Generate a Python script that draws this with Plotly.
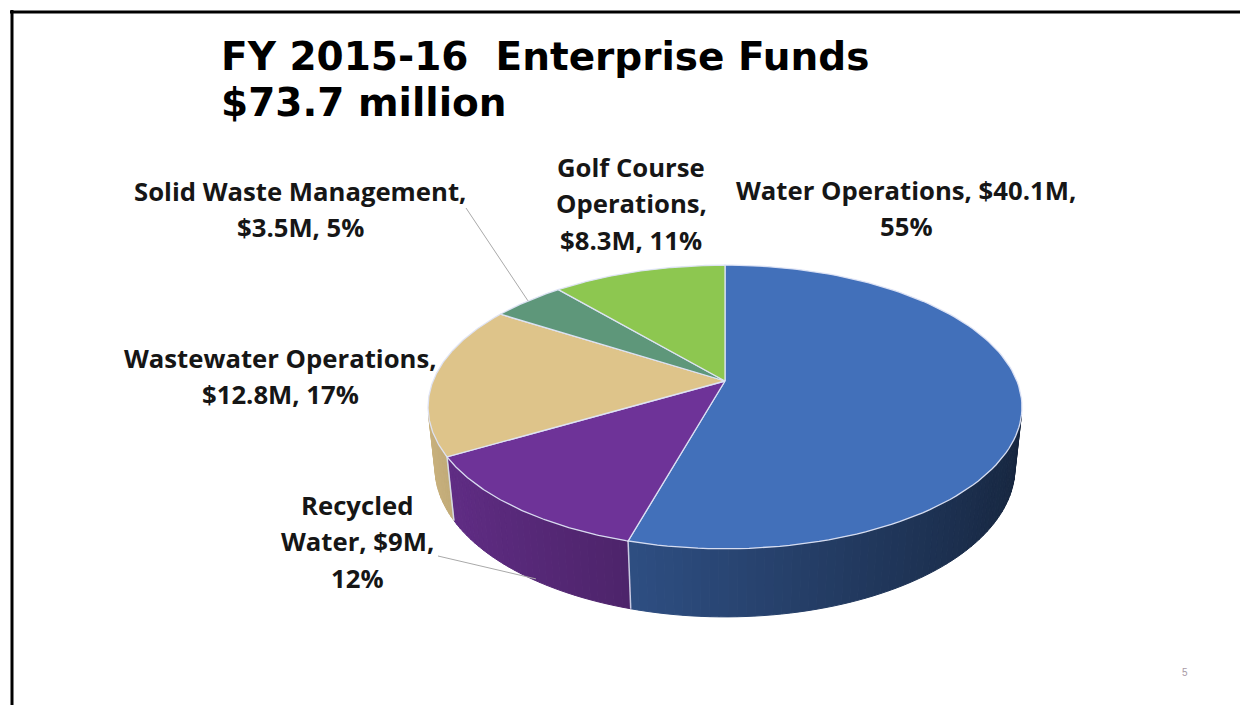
import textwrap
import numpy as np
import plotly.graph_objects as go

# ---- data -------------------------------------------------------------
categories = ["Water Operations", "Recycled Water", "Wastewater Operations",
              "Solid Waste Management", "Golf Course Operations"]
values_musd = [40.1, 9.0, 12.8, 3.5, 8.3]          # $ millions
value_text = ["$40.1M", "$9M", "$12.8M", "$3.5M", "$8.3M"]
percent_text = ["55%", "12%", "17%", "5%", "11%"]
title_lines = ["FY 2015-16  Enterprise Funds", "$73.7 million"]
page_number = "5"

# ---- styling ------------------------------------------------------------
top_colors = ["#4270BA", "#6E3398", "#DEC48A", "#5E977A", "#8DC750"]
wrap_widths = [25, 11, 22, 23, 11]
# label centres, same order as categories
label_centers = [(906, 190), (357, 505), (280, 358), (300, 191), (631, 167)]
line_gap = 36.5
label_font = dict(family="Open Sans", size=25.7, color="#161616", weight="bold")
# leader lines: (start point near the label, slice angle offset, depth fraction)
leaders = {1: ((438, 556), 0.42, 0.97), 3: ((466, 208), 0.5, 0.0)}

W, H = 1240, 705
CX, CY = 725.0, 381.0          # projected pie centre
TILT = np.radians(28.0)
S, C = np.sin(TILT), np.cos(TILT)
D = 4.823                      # camera distance (pie radius = 1)
F = 1408.0                     # focal scale in px
DEPTH = 0.237                  # pie thickness


def project(phi_deg, z):
    phi = np.radians(np.asarray(phi_deg, dtype=float))
    X, Y = np.sin(phi), np.cos(phi)
    yc = Y * S + z * C
    zc = D + Y * C - z * S
    return CX + F * X / zc, CY - F * yc / zc


def shade(hex_color, fac):
    h = hex_color.lstrip("#")
    r, g, b = (int(h[i:i + 2], 16) for i in (0, 2, 4))
    return "rgb(%d,%d,%d)" % tuple(min(255, int(round(v * fac))) for v in (r, g, b))


total = sum(values_musd)
bounds = np.concatenate([[0.0], np.cumsum(values_musd) / total * 360.0])

fig = go.Figure()

# visible part of the outer wall (front-facing arc of the cylinder)
phi_t = np.degrees(np.arccos(-1.0 / (D * C)))
vis_lo, vis_hi = phi_t, 360.0 - phi_t

for i, col in enumerate(top_colors):
    a0, a1 = max(bounds[i], vis_lo), min(bounds[i + 1], vis_hi)
    if a1 <= a0:
        continue
    n = max(1, int(np.ceil((a1 - a0) / 1.5)))
    edges = np.linspace(a0, a1, n + 1)
    for e0, e1 in zip(edges[:-1], edges[1:]):
        arc = np.linspace(e0, e1, 4)
        xt, yt = project(arc, 0.0)
        xb, yb = project(arc[::-1], -DEPTH)
        mid = np.radians(0.5 * (e0 + e1))
        c = shade(col, 0.62 - 0.29 * np.sin(mid))
        fig.add_trace(go.Scatter(
            x=np.concatenate([xt, xb, xt[:1]]), y=np.concatenate([yt, yb, yt[:1]]),
            mode="lines", fill="toself", fillcolor=c,
            line=dict(color=c, width=1), hoverinfo="skip", showlegend=False))

# seams on the wall between slices
for b in bounds[1:-1]:
    if vis_lo < b < vis_hi:
        xs, ys = project([b, b], np.array([0.0, -DEPTH]))
        fig.add_trace(go.Scatter(x=xs, y=ys, mode="lines",
                                 line=dict(color="rgba(215,222,240,0.9)", width=1.5),
                                 hoverinfo="skip", showlegend=False))

# top faces
for i, col in enumerate(top_colors):
    arc = np.linspace(bounds[i], bounds[i + 1], 120)
    xa, ya = project(arc, 0.0)
    fig.add_trace(go.Scatter(
        x=np.concatenate([[CX], xa, [CX]]), y=np.concatenate([[CY], ya, [CY]]),
        mode="lines", fill="toself", fillcolor=col,
        line=dict(color="rgba(222,228,246,0.95)", width=1.3),
        name=categories[i], hoverinfo="skip", showlegend=False))

# leader lines
for i, (start, frac, zf) in leaders.items():
    ang = bounds[i] + frac * (bounds[i + 1] - bounds[i])
    ex, ey = project([ang], -zf * DEPTH)
    fig.add_trace(go.Scatter(x=[start[0], ex[0]], y=[start[1], ey[0]], mode="lines",
                             line=dict(color="#a9a9a9", width=1),
                             hoverinfo="skip", showlegend=False))

annotations = []
for i in range(len(categories)):
    text = f"{categories[i]}, {value_text[i]}, {percent_text[i]}"
    lines = textwrap.wrap(text, wrap_widths[i])
    cx, cy = label_centers[i]
    for k, ln in enumerate(lines):
        annotations.append(dict(x=cx, y=cy + k * line_gap, text=ln, showarrow=False,
                                xanchor="center", yanchor="middle", font=label_font))

title_font = dict(family="DejaVu Sans", size=39, color="#000000", weight="bold")
for k, t in enumerate(title_lines):
    annotations.append(dict(x=219, y=56 + k * 46, text=t, showarrow=False,
                            xanchor="left", yanchor="middle", font=title_font))

annotations.append(dict(x=1185, y=672, text=page_number, showarrow=False,
                        font=dict(family="Liberation Sans", size=10, color="#a89aa6")))

shapes = [
    dict(type="line", x0=10, x1=W, y0=12, y1=12, line=dict(color="black", width=3)),
    dict(type="line", x0=12, x1=12, y0=10, y1=H, line=dict(color="black", width=3)),
]

fig.update_layout(
    width=W, height=H, margin=dict(l=0, r=0, t=0, b=0),
    paper_bgcolor="white", plot_bgcolor="white",
    xaxis=dict(range=[0, W], visible=False, fixedrange=True),
    yaxis=dict(range=[H, 0], visible=False, fixedrange=True),
    annotations=annotations, shapes=shapes, showlegend=False,
)

fig.write_html("out.html")
